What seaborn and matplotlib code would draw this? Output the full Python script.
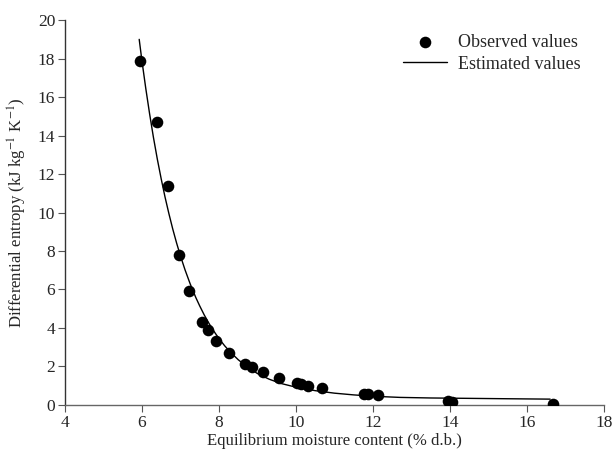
import numpy as np
import pandas as pd
import matplotlib
matplotlib.use("Agg")
import matplotlib.pyplot as plt
import seaborn as sns

# observed points
moisture_obs = [5.95, 6.39, 6.67, 6.97, 7.22, 7.57, 7.71, 7.93, 8.26, 8.69, 8.87,
                9.15, 9.57, 10.02, 10.12, 10.31, 10.67, 11.76, 11.88, 12.13,
                13.96, 14.06, 16.68]
entropy_obs = [17.9, 14.7, 11.4, 7.8, 5.9, 4.3, 3.9, 3.3, 2.7, 2.1, 1.95,
               1.7, 1.4, 1.15, 1.1, 1.0, 0.9, 0.57, 0.55, 0.5,
               0.2, 0.17, 0.05]

# estimated curve
moisture_est = [5.93, 6.0, 6.1, 6.2, 6.3, 6.4, 6.5, 6.6, 6.7, 6.8, 6.9, 7.0, 7.12,
                7.25, 7.4, 7.5, 7.62, 7.75, 7.9, 8.0, 8.15, 8.3, 8.5, 8.7, 9.0,
                9.3, 9.6, 10.0, 10.5, 11.0, 11.5, 12.0, 12.7, 13.5, 14.5,
                15.5, 16.6]
entropy_est = [19.0, 17.9, 16.46, 15.13, 13.9, 12.78, 11.76, 10.81, 9.95, 9.15,
               8.42, 7.75, 7.02, 6.31, 5.58, 5.15, 4.67, 4.21, 3.74, 3.45, 3.07,
               2.74, 2.35, 2.03, 1.63, 1.34, 1.12, 0.92, 0.74, 0.61, 0.52, 0.45,
               0.39, 0.36, 0.34, 0.32, 0.3]

obs = pd.DataFrame({"x": moisture_obs, "y": entropy_obs})
est = pd.DataFrame({"x": moisture_est, "y": entropy_est})

sns.set_style("ticks")
plt.rcParams["font.family"] = ["Liberation Serif", "DejaVu Serif"]
plt.rcParams["mathtext.fontset"] = "stix"

fig = plt.figure(figsize=(6.12, 4.57), dpi=100)
ax = fig.add_axes([0.106, 0.114, 0.881, 0.842])

sns.lineplot(data=est, x="x", y="y", ax=ax, color="black", linewidth=1.0,
             label="Estimated values", sort=False)
sns.scatterplot(data=obs, x="x", y="y", ax=ax, color="black", s=70,
                edgecolor="black", linewidth=0, label="Observed values",
                zorder=3)

ax.set_xlim(4, 18)
ax.set_ylim(0, 20)
ax.set_xticks(np.arange(4, 19, 2))
ax.set_yticks(np.arange(0, 21, 2))
ax.tick_params(labelsize=12.5, length=5, width=0.8, color="#555555", pad=2)
ax.spines["left"].set_color("#333333")
ax.spines["bottom"].set_color("#666666")
for side in ["left", "bottom"]:
    ax.spines[side].set_linewidth(1.0)
sns.despine(ax=ax)

ax.set_xlabel("Equilibrium moisture content (% d.b.)", fontsize=12, labelpad=2)
ax.set_ylabel("Differential entropy (kJ kg$^{-1}$ K$^{-1}$)", fontsize=12, labelpad=6)

h, l = ax.get_legend_handles_labels()
ax.legend(h[::-1], l[::-1], loc="upper right", frameon=False, fontsize=13,
          bbox_to_anchor=(0.986, 1.006), handlelength=2.4, handletextpad=0.6,
          labelspacing=0.25, borderpad=0.4)

fig.savefig("out.png", dpi=100)
